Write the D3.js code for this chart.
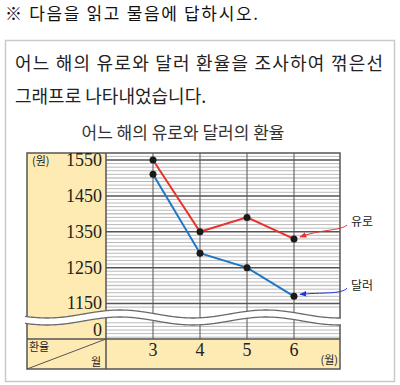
<!DOCTYPE html>
<html>
<head>
<meta charset="utf-8">
<script src="https://cdn.jsdelivr.net/npm/d3@7"></script>
<style>
  body { margin: 0; background: #fff; }
  svg { display: block; }
</style>
</head>
<body>
<div id="chart"></div>
<script>
// values
var months = [3, 4, 5, 6];
var euro = [1550, 1350, 1390, 1330];
var dollar = [1510, 1290, 1250, 1170];
var yTicks = [1550, 1450, 1350, 1250, 1150];
var lowTicks = [0];

var w = 400, h = 385;
var kr = "'Noto Sans CJK KR', 'Noto Sans', sans-serif";
var serif = "'Liberation Serif', 'DejaVu Serif', serif";
var yellow = "#fdebb3";
var dark = "#555";
var euroRed = "#e8322b";
var dollarBlue = "#1f77c4";

var tbl = {left: 27, lab: 106, right: 340, top: 153, axis: 339, bottom: 369};

var svg = d3.select("#chart")
  .append("svg")
  .attr("width", w)
  .attr("height", h);

svg.append("defs").selectAll("marker")
  .data([["arRed", euroRed], ["arBlue", "#2233ee"]])
  .enter()
  .append("marker")
  .attr("id", d => d[0])
  .attr("viewBox", "0 0 10 10")
  .attr("refX", 9).attr("refY", 5)
  .attr("markerWidth", 7).attr("markerHeight", 7)
  .attr("orient", "auto")
  .append("path")
  .attr("d", "M0,1 L10,5 L0,9 Z")
  .attr("fill", d => d[1]);

// header
svg.append("text")
  .attr("x", 5).attr("y", 20)
  .attr("textLength", 253).attr("lengthAdjust", "spacing")
  .style("font-family", kr).style("font-size", "17px")
  .attr("fill", "#111")
  .text("※ 다음을 읽고 물음에 답하시오.");

svg.append("rect")
  .attr("x", 5.5).attr("y", 40.5)
  .attr("width", 389).attr("height", 341)
  .attr("fill", "none")
  .attr("stroke", "#c9c9c9")
  .attr("stroke-width", 1.5);

svg.append("text")
  .attr("x", 15).attr("y", 70)
  .attr("textLength", 368).attr("lengthAdjust", "spacing")
  .style("font-family", kr).style("font-size", "18px")
  .attr("fill", "#222")
  .text("어느 해의 유로와 달러 환율을 조사하여 꺾은선");
svg.append("text")
  .attr("x", 15).attr("y", 103)
  .style("font-family", kr).style("font-size", "18px")
  .attr("fill", "#222")
  .text("그래프로 나타내었습니다.");

svg.append("text")
  .attr("x", 183).attr("y", 139)
  .attr("text-anchor", "middle")
  .style("font-family", kr).style("font-size", "17px")
  .attr("fill", "#333")
  .text("어느 해의 유로와 달러의 환율");

// scales
var x = d3.scaleLinear().domain([2, 7]).range([tbl.lab, tbl.right + 1]);
var y = d3.scaleLinear().domain([1150, 1550]).range([303.5, 160]);
var yLow = d3.scaleLinear().domain([-20, 20]).range([337.2, 322.8]);

// yellow cells
svg.append("rect")
  .attr("x", tbl.left).attr("y", tbl.top)
  .attr("width", tbl.lab - tbl.left).attr("height", tbl.axis - tbl.top)
  .attr("fill", yellow);
svg.append("rect")
  .attr("x", tbl.left).attr("y", tbl.axis)
  .attr("width", tbl.right - tbl.left).attr("height", tbl.bottom - tbl.axis)
  .attr("fill", yellow);

// grid lines
var grid = svg.append("g");
var minor = d3.range(1140, 1561, 10);
grid.selectAll(".minor")
  .data(minor)
  .enter()
  .append("line")
  .attr("x1", tbl.lab).attr("x2", tbl.right)
  .attr("y1", d => y(d)).attr("y2", d => y(d))
  .attr("stroke", d => d % 100 === 50 ? dark : (d % 50 === 0 ? "#c4c4c4" : "#a8a8a8"))
  .attr("stroke-width", d => d % 100 === 50 ? 1.5 : (d % 50 === 0 ? 1.6 : 0.8));
grid.selectAll(".low")
  .data(d3.range(-20, 21, 10))
  .enter()
  .append("line")
  .attr("x1", tbl.lab).attr("x2", tbl.right)
  .attr("y1", d => yLow(d)).attr("y2", d => yLow(d))
  .attr("stroke", "#a8a8a8")
  .attr("stroke-width", 0.8);
grid.selectAll(".vline")
  .data(months)
  .enter()
  .append("line")
  .attr("x1", d => x(d)).attr("x2", d => x(d))
  .attr("y1", tbl.top).attr("y2", tbl.axis)
  .attr("stroke", dark)
  .attr("stroke-width", 1);

// table borders
var border = svg.append("g")
  .attr("fill", "none")
  .attr("stroke", dark)
  .attr("stroke-width", 1.5);
border.append("rect")
  .attr("x", tbl.left).attr("y", tbl.top)
  .attr("width", tbl.right - tbl.left).attr("height", tbl.bottom - tbl.top);
border.append("line")
  .attr("x1", tbl.lab).attr("x2", tbl.lab)
  .attr("y1", tbl.top).attr("y2", tbl.bottom);
border.append("line")
  .attr("x1", tbl.left).attr("x2", tbl.right)
  .attr("y1", tbl.axis).attr("y2", tbl.axis);
border.append("line")
  .attr("x1", tbl.left).attr("y1", tbl.bottom)
  .attr("x2", tbl.lab).attr("y2", tbl.axis)
  .attr("stroke-width", 1);

// wavy break
var waveTop = xx => 314 - 4 * Math.cos(2 * Math.PI * (xx - 120) / 146);
var xs = d3.range(tbl.left - 2, tbl.right + 3, 2);
var topPts = xs.map(v => [v, waveTop(v)]);
var botPts = xs.map(v => [v, waveTop(v) + 7]);
var lineGen = d3.line().curve(d3.curveBasis);
svg.append("path")
  .attr("d", lineGen(topPts) + "L" + botPts.slice().reverse().map(p => p.join(",")).join("L") + "Z")
  .attr("fill", "#fff");
svg.append("path")
  .attr("d", lineGen(topPts))
  .attr("fill", "none").attr("stroke", "#6a6a6a").attr("stroke-width", 1.3);
svg.append("path")
  .attr("d", lineGen(botPts))
  .attr("fill", "none").attr("stroke", "#6a6a6a").attr("stroke-width", 1.3);

// y labels
svg.selectAll(".ylab")
  .data(yTicks)
  .enter()
  .append("text")
  .attr("x", 102)
  .attr("y", d => y(d))
  .attr("dy", "0.33em")
  .attr("text-anchor", "end")
  .style("font-family", serif).style("font-size", "18px")
  .attr("fill", "#222")
  .text(d => d);
svg.selectAll(".ylow")
  .data(lowTicks)
  .enter()
  .append("text")
  .attr("x", 102)
  .attr("y", d => yLow(d))
  .attr("dy", "0.33em")
  .attr("text-anchor", "end")
  .style("font-family", serif).style("font-size", "18px")
  .attr("fill", "#222")
  .text(d => d);
svg.append("text")
  .attr("x", 32).attr("y", 165)
  .style("font-family", kr).style("font-size", "11px")
  .attr("fill", "#222")
  .text("(원)");

// x labels
svg.selectAll(".xlab")
  .data(months)
  .enter()
  .append("text")
  .attr("x", d => x(d))
  .attr("y", 356)
  .attr("text-anchor", "middle")
  .style("font-family", serif).style("font-size", "18px")
  .attr("fill", "#222")
  .text(d => d);
svg.append("text")
  .attr("x", 338).attr("y", 364)
  .attr("text-anchor", "end")
  .style("font-family", kr).style("font-size", "11px")
  .attr("fill", "#222")
  .text("(월)");
svg.append("text")
  .attr("x", 29).attr("y", 351)
  .style("font-family", kr).style("font-size", "11px")
  .attr("fill", "#222")
  .text("환율");
svg.append("text")
  .attr("x", 101).attr("y", 366)
  .attr("text-anchor", "end")
  .style("font-family", kr).style("font-size", "11px")
  .attr("fill", "#222")
  .text("월");

// lines
var series = [
  {name: "유로", values: euro, color: euroRed, marker: "arRed", arrowCol: euroRed},
  {name: "달러", values: dollar, color: dollarBlue, marker: "arBlue", arrowCol: "#2233ee"}
];
var line = d3.line()
  .x((d, i) => x(months[i]))
  .y(d => y(d));
series.forEach(s => {
  svg.append("path")
    .datum(s.values)
    .attr("d", line)
    .attr("fill", "none")
    .attr("stroke", s.color)
    .attr("stroke-width", 2);
});
series.forEach(s => {
  svg.selectAll(null)
    .data(s.values)
    .enter()
    .append("circle")
    .attr("cx", (d, i) => x(months[i]))
    .attr("cy", d => y(d))
    .attr("r", 3.5)
    .attr("fill", "#1a1a1a");
});

// callouts
series.forEach(s => {
  var last = s.values[s.values.length - 1];
  var px = x(months[months.length - 1]), py = y(last);
  var sx = px + 53, sy = py - 14 + (s.name === "달러" ? 6 : 0);
  svg.append("path")
    .attr("d", "M" + sx + "," + sy + " C" + (sx - 6) + "," + (sy + 6) + " " + (sx - 25) + "," + (sy + 4) + " " + (px + 6) + "," + (py - 2))
    .attr("fill", "none")
    .attr("stroke", s.arrowCol)
    .attr("stroke-width", 1)
    .attr("marker-end", "url(#" + s.marker + ")");
  svg.append("text")
    .attr("x", sx + 4).attr("y", sy - 3)
    .attr("dy", "0.35em")
    .style("font-family", kr).style("font-size", "12px")
    .attr("fill", "#222")
    .text(s.name);
});
</script>
</body>
</html>
